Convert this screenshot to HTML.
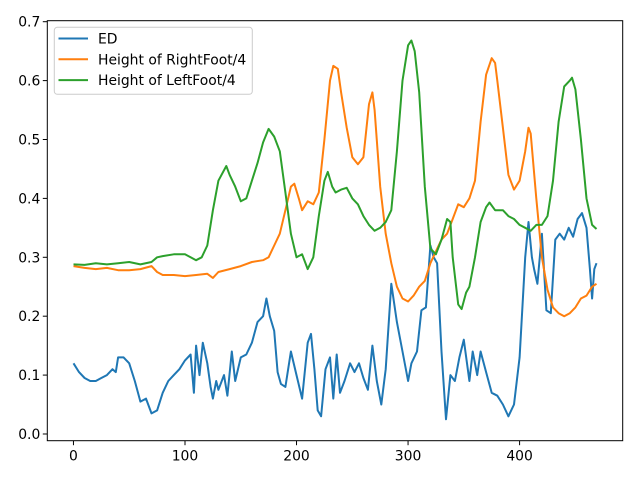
<!DOCTYPE html>
<html><head><meta charset="utf-8"><style>
body{margin:0;background:#fff;font-family:"DejaVu Sans","Liberation Sans",sans-serif;}
svg text{font-family:"DejaVu Sans","Liberation Sans",sans-serif;}
</style></head><body>
<svg id="chart" width="640" height="480" xmlns="http://www.w3.org/2000/svg">
<rect x="0" y="0" width="640" height="480" fill="#fff"/>
<g id="plot"></g>
</svg>
<script>
const edX=[0,5,10,15,20,25,30,35,38,40,45,50,55,60,65,70,75,80,85,90,95,100,105,108,110,113,116,120,123,125,128,130,135,138,142,145,150,155,160,165,170,173,176,180,183,186,190,195,200,205,210,213,216,219,222,226,230,233,236,239,243,248,252,256,260,264,268,272,276,280,285,290,295,300,303,308,312,316,320,323,326,330,334,338,342,346,350,355,358,362,365,370,375,380,385,390,395,400,405,408,411,413,416,420,424,428,432,436,440,444,448,452,456,460,463,465,467,469];
const edY=[0.12,0.105,0.095,0.09,0.09,0.095,0.10,0.11,0.105,0.13,0.13,0.12,0.09,0.055,0.06,0.035,0.04,0.07,0.09,0.10,0.11,0.125,0.135,0.07,0.15,0.10,0.155,0.12,0.08,0.06,0.09,0.075,0.10,0.065,0.14,0.09,0.13,0.135,0.155,0.19,0.20,0.23,0.20,0.175,0.105,0.085,0.08,0.14,0.10,0.06,0.155,0.17,0.11,0.04,0.03,0.11,0.13,0.06,0.135,0.07,0.09,0.12,0.105,0.12,0.095,0.075,0.15,0.09,0.05,0.11,0.255,0.19,0.14,0.09,0.12,0.14,0.21,0.215,0.32,0.30,0.29,0.14,0.025,0.10,0.09,0.13,0.16,0.09,0.14,0.10,0.14,0.105,0.07,0.065,0.05,0.03,0.05,0.13,0.30,0.36,0.30,0.28,0.255,0.34,0.21,0.205,0.33,0.34,0.33,0.35,0.335,0.365,0.375,0.35,0.28,0.23,0.28,0.29];
const rfX=[0,10,20,30,40,50,60,70,75,80,90,100,110,120,125,130,140,150,160,170,175,180,185,190,195,198,202,205,210,215,220,225,230,233,237,240,245,250,255,260,265,268,270,275,280,285,290,295,300,305,310,315,320,325,330,335,340,345,350,355,360,365,370,375,378,380,385,390,395,400,405,408,410,415,420,425,430,435,440,445,450,455,460,465,469];
const rfY=[0.285,0.282,0.280,0.282,0.278,0.278,0.280,0.285,0.275,0.270,0.270,0.268,0.270,0.272,0.265,0.275,0.280,0.285,0.292,0.295,0.30,0.32,0.34,0.38,0.42,0.425,0.40,0.38,0.395,0.39,0.41,0.50,0.60,0.625,0.62,0.58,0.52,0.47,0.458,0.47,0.56,0.58,0.55,0.42,0.34,0.29,0.25,0.23,0.225,0.235,0.25,0.26,0.29,0.31,0.33,0.34,0.365,0.39,0.385,0.40,0.43,0.53,0.61,0.638,0.63,0.60,0.52,0.44,0.415,0.43,0.48,0.52,0.51,0.40,0.30,0.245,0.215,0.205,0.20,0.205,0.215,0.23,0.235,0.25,0.255];
const lfX=[0,10,20,30,40,50,60,70,75,80,90,100,105,110,115,120,125,130,137,140,145,150,155,160,165,170,175,180,185,190,195,200,205,210,215,220,225,228,232,235,240,245,250,255,260,265,270,275,280,285,290,295,300,303,306,310,315,320,325,330,335,338,340,345,348,352,355,360,365,370,373,378,385,390,395,400,405,410,415,420,425,430,435,440,445,447,450,455,460,465,469];
const lfY=[0.288,0.287,0.29,0.288,0.29,0.292,0.288,0.292,0.30,0.302,0.305,0.305,0.300,0.295,0.30,0.32,0.38,0.43,0.455,0.44,0.42,0.395,0.40,0.43,0.46,0.495,0.518,0.505,0.48,0.41,0.34,0.30,0.305,0.28,0.30,0.37,0.43,0.445,0.42,0.41,0.415,0.418,0.40,0.39,0.37,0.355,0.345,0.35,0.36,0.38,0.48,0.60,0.66,0.668,0.65,0.58,0.42,0.315,0.305,0.33,0.365,0.36,0.30,0.22,0.212,0.24,0.25,0.30,0.36,0.385,0.393,0.38,0.38,0.37,0.365,0.355,0.35,0.345,0.355,0.355,0.37,0.43,0.53,0.59,0.60,0.605,0.585,0.50,0.40,0.355,0.348];
const xTicks=[0,100,200,300,400];
const yTicks=[0.0,0.1,0.2,0.3,0.4,0.5,0.6,0.7];
const seriesNames=["ED","Height of RightFoot/4","Height of LeftFoot/4"];
const colors=["#1f77b4","#ff7f0e","#2ca02c"];

const X0=47.3,X1=622.7,Y0=20.7,Y1=440.7;
const xmin=-23.45,xmax=492.45,ymin=-0.0114,ymax=0.7017;
const sx=v=>X0+(v-xmin)/(xmax-xmin)*(X1-X0);
const sy=v=>Y1-(v-ymin)/(ymax-ymin)*(Y1-Y0);
const NS="http://www.w3.org/2000/svg";
const g=document.getElementById('plot');
function mk(t,a){const e=document.createElementNS(NS,t);for(const k in a)e.setAttribute(k,a[k]);g.appendChild(e);return e;}
const xs=[edX,rfX,lfX], ys=[edY,rfY,lfY];
for(let s=0;s<3;s++){
  const d=xs[s].map((x,i)=>(i?'L':'M')+sx(x).toFixed(1)+','+sy(ys[s][i]).toFixed(1)).join('');
  const p=mk('path',{d:d,fill:'none',stroke:colors[s],'stroke-width':2,'stroke-linejoin':'round'});
  
  
}
const fr=mk('rect',{x:X0,y:Y0,width:X1-X0,height:Y1-Y0,fill:'none',stroke:'#000','stroke-width':1});


xTicks.forEach(v=>{
  const x=sx(v);
  const tk=mk('line',{x1:x,y1:Y1,x2:x,y2:Y1+4.5,stroke:'#000','stroke-width':1});
  
  
  const t=mk('text',{x:x,y:Y1+20,'text-anchor':'middle','font-size':13.9});
  t.textContent=String(v);
  
  
});
yTicks.forEach(v=>{
  const y=sy(v);
  const tk=mk('line',{x1:X0-4.5,y1:y,x2:X0,y2:y,stroke:'#000','stroke-width':1});
  
  
  const t=mk('text',{x:X0-7,y:y+5,'text-anchor':'end','font-size':13.9});
  t.textContent=v.toFixed(1);
  
  
});
const lg=mk('rect',{x:54.3,y:27.3,width:198,height:67,rx:3,fill:'#fff','fill-opacity':0.8,stroke:'#ccc','stroke-width':1});


seriesNames.forEach((n,i)=>{
  const y=38.5+i*20.8;
  const ln=mk('line',{x1:58.5,y1:y,x2:88,y2:y,stroke:colors[i],'stroke-width':2});
  
  
  const t=mk('text',{x:98,y:y+5,'font-size':13.9});
  t.textContent=n;
  
  
});
</script>
</body></html>
